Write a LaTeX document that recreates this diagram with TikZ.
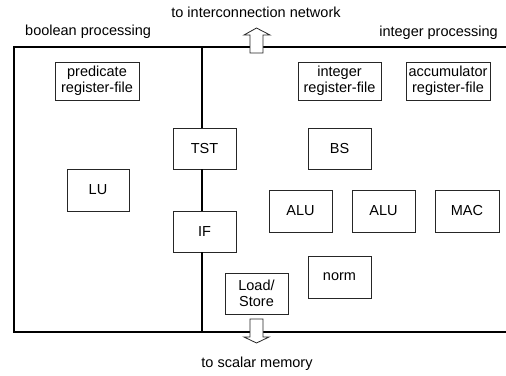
\documentclass[tikz,border=0pt]{standalone}
\usepackage{fontspec}
\setmainfont{Liberation Sans}
\begin{document}
\begin{tikzpicture}[x=1pt,y=-1pt,
  every node/.style={font=\fontsize{14.5}{16}\selectfont},
  unit/.style={draw=black!85, line width=0.8pt, fill=white, inner sep=0pt,
    minimum width=63pt, minimum height=41pt, align=center},
  frame/.style={draw=black, line width=1.6pt},
  blockarrow/.style={draw=black!85, line width=0.8pt, fill=white},
  caption/.style={inner sep=0pt}]
\useasboundingbox (0,0) rectangle (506,375);

% processing area frame (open on the right)
\coordinate (tl) at (14,47);
\coordinate (bl) at (14,332);
\coordinate (tr) at (506,47);
\coordinate (br) at (506,332);
\coordinate (divtop) at (202,47);
\coordinate (divbot) at (202,332);
\draw[frame] (tr) -- (tl) -- (bl) -- (br);

% functional units
\node[unit, minimum width=84pt, minimum height=38pt] (pred) at (97,81) {predicate\\register-file};
\node[unit, minimum width=83pt, minimum height=38pt] (irf) at (339.5,81) {integer\\register-file};
\node[unit, minimum width=84pt, minimum height=38pt] (acc) at (448,81) {accumulator\\register-file};
\node[unit] (tst) at (204.5,148.5) {TST};
\node[unit, minimum width=62pt, minimum height=42pt] (lu) at (98,190) {LU};
\node[unit] (if) at (204.5,231.5) {IF};
\node[unit] (bs) at (339.5,148.5) {BS};
\node[unit, minimum height=42pt] (alu1) at (300.5,211) {ALU};
\node[unit, minimum height=42pt] (alu2) at (383.5,211) {ALU};
\node[unit, minimum width=64pt, minimum height=42pt] (mac) at (467,211) {MAC};
\node[unit, minimum height=42pt] (norm) at (339.5,277) {norm};
\node[unit] (ls) at (256.5,293.5) {Load/\\Store};

% boolean / integer divider through TST and IF
\draw[frame] (divtop) -- (divtop |- tst.north);
\draw[frame] (divtop |- tst.south) -- (divtop |- if.north);
\draw[frame] (divtop |- if.south) -- (divbot);

% interfaces
\draw[blockarrow] (250,53) -- (250,35) -- (244,35) -- (256.5,28) -- (270,35)
  -- (263,35) -- (263,53) -- cycle;
\draw[blockarrow] (250,319) -- (250,337) -- (244,337) -- (256.5,343) -- (269,337)
  -- (263,337) -- (263,319) -- cycle;

% captions
\node[caption] (net) at (256,12) {to interconnection network};
\node[caption, anchor=west] (boolcap) at (25,32) {boolean processing};
\node[caption, anchor=east] (intcap) at (498,33) {integer processing};
\node[caption] (mem) at (257,364) {to scalar memory};
\end{tikzpicture}
\end{document}
